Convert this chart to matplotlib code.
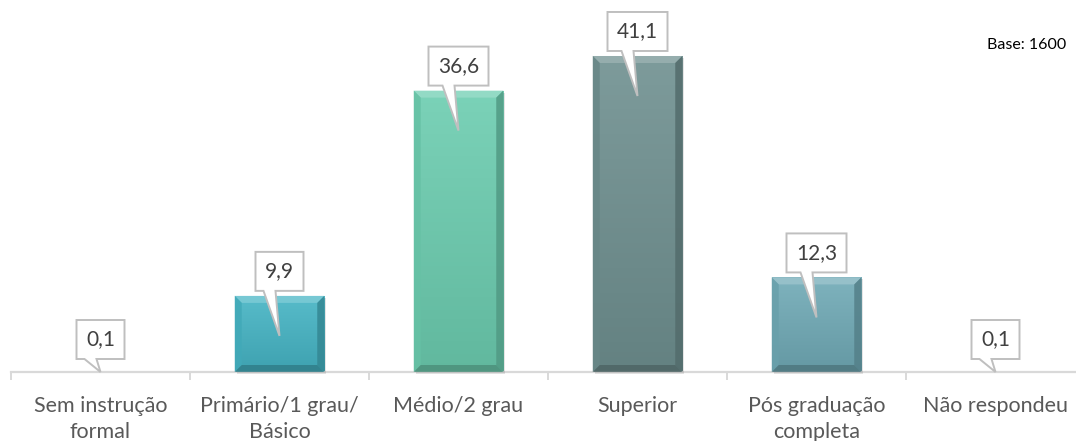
import matplotlib
matplotlib.use("Agg")
import matplotlib.pyplot as plt
import numpy as np
from matplotlib.patches import Polygon
from matplotlib.transforms import IdentityTransform
from matplotlib.colors import to_rgb

plt.rcParams['font.family'] = ['Lato', 'DejaVu Sans']

categories = ["Sem instrução\nformal", "Primário/1 grau/\nBásico", "Médio/2 grau",
              "Superior", "Pós graduação\ncompleta", "Não respondeu"]
values = [0.1, 9.9, 36.6, 41.1, 12.3, 0.1]
value_labels = ["0,1", "9,9", "36,6", "41,1", "12,3", "0,1"]
bar_colors = ["#45B4C4", "#45B4C4", "#6CCDB0", "#6F9090", "#70AAB6", "#70AAB6"]
base_text = "Base: 1600"

W, H = 1076, 441
fig = plt.figure(figsize=(W / 100, H / 100), dpi=100)
ax = fig.add_axes([11 / W, 69 / H, 1074 / W, 346 / H])

x = np.arange(len(categories))
bars = ax.bar(x, values, width=0.5, color=bar_colors, zorder=2)
ax.set_xlim(-0.5, 5.5)
ax.set_ylim(0, 45)

for s in ["top", "left", "right"]:
    ax.spines[s].set_visible(False)
ax.spines["bottom"].set_color("#D9D9D9")
ax.spines["bottom"].set_linewidth(1.6)
ax.set_yticks([])
ax.set_xticks(x)
ax.set_xticklabels(categories, fontsize=15.5, color="#595959", linespacing=1.38)
ax.tick_params(axis="x", which="major", length=0, pad=17)
ax.set_xticks(np.arange(-0.5, 6.0, 1.0), minor=True)
ax.tick_params(axis="x", which="minor", length=6, width=1.4, color="#D9D9D9")

ident = IdentityTransform()


def mix(c, t, amt):
    c = np.array(to_rgb(c))
    t = np.array(to_rgb(t))
    return tuple(c * (1 - amt) + t * amt)


base_px = ax.transData.transform((0, 0))[1]
for rect, col, lab, v in zip(bars, bar_colors, value_labels, values):
    x0d = rect.get_x()
    x1d = x0d + rect.get_width()
    (px0, py0) = ax.transData.transform((x0d, 0))
    (px1, py1) = ax.transData.transform((x1d, v))
    cx = (px0 + px1) / 2
    hpx = py1 - py0
    b = 7
    if hpx > 2 * b + 2:
        # gradient face
        grad = np.linspace(0, 1, 64).reshape(-1, 1)
        top_c = np.array(mix(col, "white", 0.10))
        bot_c = np.array(mix(col, "black", 0.10))
        img = (top_c[None, None, :] * (1 - grad[:, :, None]) + bot_c[None, None, :] * grad[:, :, None])
        im = ax.imshow(img, extent=[x0d, x1d, 0, v], aspect="auto", zorder=2.5, origin="upper")
        im.set_clip_path(rect)
        # shadow
        sh = Polygon([(px0 + 2, py0 - 2), (px1 + 2, py0 - 2), (px1 + 2, py1 - 2), (px1, py1 - 2),
                      (px1, py0), (px0 + 2, py0)],
                     closed=True, transform=ident, facecolor="#000000", alpha=0.10,
                     edgecolor="none", zorder=1)
        fig.add_artist(sh)
        polys = [
            ([(px0, py1), (px1, py1), (px1 - b, py1 - b), (px0 + b, py1 - b)], mix(col, "white", 0.30)),
            ([(px0, py0), (px0, py1), (px0 + b, py1 - b), (px0 + b, py0 + b)], mix(col, "black", 0.06)),
            ([(px1, py0), (px1, py1), (px1 - b, py1 - b), (px1 - b, py0 + b)], mix(col, "black", 0.25)),
            ([(px0, py0), (px1, py0), (px1 - b, py0 + b), (px0 + b, py0 + b)], mix(col, "black", 0.30)),
        ]
        for pts, fc in polys:
            fig.add_artist(Polygon(pts, closed=True, transform=ident, facecolor=fc,
                                   edgecolor="none", alpha=0.85, zorder=3))
    # callout
    bw = 12 * len(lab) + 12
    bh = 39
    if hpx > 60:
        ay = py1 - 40
        by0 = py1 + 5
    else:
        ay = base_px
        by0 = base_px + 13
    by1 = by0 + bh
    bx0, bx1 = cx - bw / 2, cx + bw / 2
    pts = [(bx0, by0), (cx - 16, by0), (cx, ay), (cx - 4, by0), (bx1, by0), (bx1, by1), (bx0, by1)]
    fig.add_artist(Polygon(pts, closed=True, transform=ident, facecolor="white",
                           edgecolor="#BFBFBF", linewidth=1.4, zorder=5))
    fig.text(cx / W, (by0 + by1) / 2 / H, lab, ha="center", va="center", fontsize=15,
             color="#404040", zorder=6)

fig.text(1066 / W, 396 / H, base_text, ha="right", va="center", fontsize=11.5, color="#000000")

fig.savefig("out.png", dpi=100)
